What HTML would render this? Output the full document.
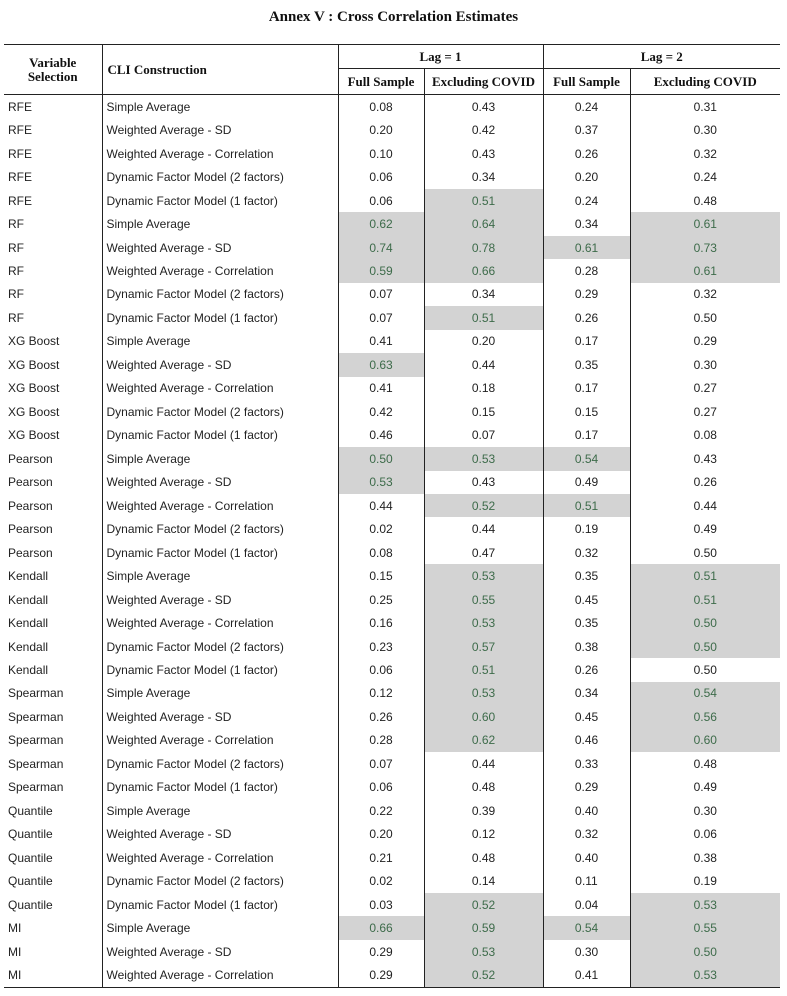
<!DOCTYPE html>
<html><head><meta charset="utf-8"><style>
body{margin:0;background:#fff;width:787px;height:996px;position:relative;overflow:hidden}
h1{position:absolute;top:9px;left:0;width:787px;text-align:center;margin:0;font:bold 15px "Liberation Serif",serif;color:#111}
table{position:absolute;left:4px;top:44px;border-collapse:collapse;table-layout:fixed;width:776px}
td,th{padding:0;font:12px "Liberation Sans",sans-serif;color:#222;white-space:nowrap;overflow:hidden}
th{font:bold 13px "Liberation Serif",serif;color:#111}
thead tr:first-child th{height:23px}
thead tr:nth-child(2) th{height:25px;border-top:1px solid #222}
thead th{border-bottom:1.5px solid #222}
table{border-top:1.5px solid #222;border-bottom:1.5px solid #222}
tbody td{height:23.47px}
td.n{text-align:center}
td.l{padding-left:4px}
td.c{padding-left:4px}
.bl{border-left:1px solid #222}
.s{background:#d3d3d3;color:#3d6b4a}
</style></head><body>
<h1>Annex V : Cross Correlation Estimates</h1>
<table>
<colgroup><col style="width:98px"><col style="width:236px"><col style="width:86px"><col style="width:119px"><col style="width:87px"><col style="width:150px"></colgroup>
<thead>
<tr><th rowspan="2" style="line-height:14px">Variable<br>Selection</th><th rowspan="2" class="bl" style="text-align:left;padding-left:5px">CLI Construction</th><th colspan="2" class="bl" style="border-bottom:1px solid #222">Lag = 1</th><th colspan="2" class="bl" style="border-bottom:1px solid #222">Lag = 2</th></tr>
<tr><th class="bl">Full Sample</th><th class="bl">Excluding COVID</th><th class="bl">Full Sample</th><th class="bl">Excluding COVID</th></tr>
</thead>
<tbody id="b"></tbody>
</table>
<script>
var rows=[
["RFE","Simple Average","0.08","0.43","0.24","0.31",""],
["RFE","Weighted Average - SD","0.20","0.42","0.37","0.30",""],
["RFE","Weighted Average - Correlation","0.10","0.43","0.26","0.32",""],
["RFE","Dynamic Factor Model (2 factors)","0.06","0.34","0.20","0.24",""],
["RFE","Dynamic Factor Model (1 factor)","0.06","0.51","0.24","0.48","2"],
["RF","Simple Average","0.62","0.64","0.34","0.61","124"],
["RF","Weighted Average - SD","0.74","0.78","0.61","0.73","1234"],
["RF","Weighted Average - Correlation","0.59","0.66","0.28","0.61","124"],
["RF","Dynamic Factor Model (2 factors)","0.07","0.34","0.29","0.32",""],
["RF","Dynamic Factor Model (1 factor)","0.07","0.51","0.26","0.50","2"],
["XG Boost","Simple Average","0.41","0.20","0.17","0.29",""],
["XG Boost","Weighted Average - SD","0.63","0.44","0.35","0.30","1"],
["XG Boost","Weighted Average - Correlation","0.41","0.18","0.17","0.27",""],
["XG Boost","Dynamic Factor Model (2 factors)","0.42","0.15","0.15","0.27",""],
["XG Boost","Dynamic Factor Model (1 factor)","0.46","0.07","0.17","0.08",""],
["Pearson","Simple Average","0.50","0.53","0.54","0.43","123"],
["Pearson","Weighted Average - SD","0.53","0.43","0.49","0.26","1"],
["Pearson","Weighted Average - Correlation","0.44","0.52","0.51","0.44","23"],
["Pearson","Dynamic Factor Model (2 factors)","0.02","0.44","0.19","0.49",""],
["Pearson","Dynamic Factor Model (1 factor)","0.08","0.47","0.32","0.50",""],
["Kendall","Simple Average","0.15","0.53","0.35","0.51","24"],
["Kendall","Weighted Average - SD","0.25","0.55","0.45","0.51","24"],
["Kendall","Weighted Average - Correlation","0.16","0.53","0.35","0.50","24"],
["Kendall","Dynamic Factor Model (2 factors)","0.23","0.57","0.38","0.50","24"],
["Kendall","Dynamic Factor Model (1 factor)","0.06","0.51","0.26","0.50","2"],
["Spearman","Simple Average","0.12","0.53","0.34","0.54","24"],
["Spearman","Weighted Average - SD","0.26","0.60","0.45","0.56","24"],
["Spearman","Weighted Average - Correlation","0.28","0.62","0.46","0.60","24"],
["Spearman","Dynamic Factor Model (2 factors)","0.07","0.44","0.33","0.48",""],
["Spearman","Dynamic Factor Model (1 factor)","0.06","0.48","0.29","0.49",""],
["Quantile","Simple Average","0.22","0.39","0.40","0.30",""],
["Quantile","Weighted Average - SD","0.20","0.12","0.32","0.06",""],
["Quantile","Weighted Average - Correlation","0.21","0.48","0.40","0.38",""],
["Quantile","Dynamic Factor Model (2 factors)","0.02","0.14","0.11","0.19",""],
["Quantile","Dynamic Factor Model (1 factor)","0.03","0.52","0.04","0.53","24"],
["MI","Simple Average","0.66","0.59","0.54","0.55","1234"],
["MI","Weighted Average - SD","0.29","0.53","0.30","0.50","24"],
["MI","Weighted Average - Correlation","0.29","0.52","0.41","0.53","24"]];
var h="";rows.forEach(function(r){h+='<tr><td class="l">'+r[0]+'</td><td class="c bl">'+r[1]+'</td>';for(var i=1;i<=4;i++){h+='<td class="n bl'+(r[6].indexOf(i)>=0?' s':'')+'">'+r[i+1]+'</td>';}h+='</tr>';});
document.getElementById("b").innerHTML=h;
</script>
</body></html>
